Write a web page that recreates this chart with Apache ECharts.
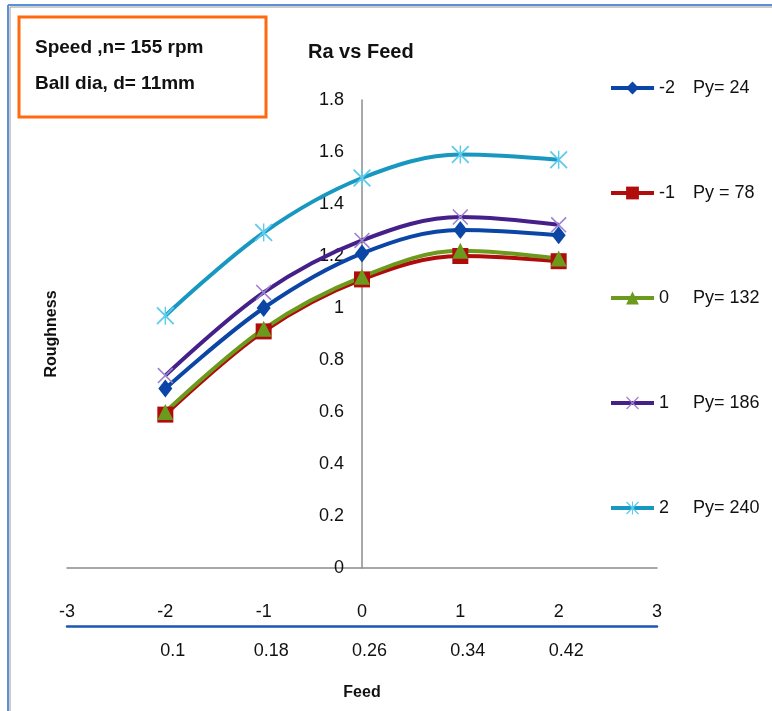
<!DOCTYPE html>
<html>
<head>
<meta charset="utf-8">
<script src="https://cdn.jsdelivr.net/npm/echarts@6/dist/echarts.min.js"></script>
<style>
  html, body { margin: 0; padding: 0; background: #fff; }
  #chart { width: 772px; height: 711px; }
</style>
</head>
<body>
<div id="chart"></div>
<script>
// 编码水平 (x 轴)
const levels = [-2, -1, 0, 1, 2]
// 进给量标签 (第二条 x 轴)
const feedLabels = ['0.1', '0.18', '0.26', '0.34', '0.42']
// 图例名 和 Py
const names = ['-2', '-1', '0', '1', '2']
const pyText = ['Py= 24', 'Py = 78', 'Py= 132', 'Py= 186', 'Py= 240']
// 各条线的 Ra 值
const raM2 = [0.69, 1.0, 1.21, 1.30, 1.28]
const raM1 = [0.59, 0.91, 1.11, 1.20, 1.18]
const ra0 = [0.60, 0.92, 1.12, 1.22, 1.19]
const ra1 = [0.74, 1.06, 1.26, 1.35, 1.32]
const ra2 = [0.97, 1.29, 1.50, 1.59, 1.57]

const font = 'Liberation Sans, Arial, sans-serif'
const xPath = 'path://M0,0.7 L0.7,0 L10,9.3 L9.3,10 Z M9.3,0 L10,0.7 L0.7,10 L0,9.3 Z'
const starPath = xPath + ' M4.6,0 L5.4,0 L5.4,10 L4.6,10 Z'

const makeSeries = (name, vals, color, symbol, size, markColor) => ({
  name: name,
  type: 'line',
  smooth: 0.35,
  data: levels.map((x, i) => [x, vals[i]]),
  symbol: symbol,
  symbolSize: size,
  symbolKeepAspect: true,
  lineStyle: { width: 4, color: color },
  itemStyle: { color: markColor || color },
  emphasis: { disabled: true },
  z: 3
})

var myChart = echarts.init(document.querySelector('#chart'))
option = {
  animation: false,
  textStyle: { fontFamily: font },
  title: {
    text: 'Ra vs Feed',
    left: 303,
    top: 37,
    textStyle: { fontSize: 20, fontWeight: 'bold', color: '#111', fontFamily: font }
  },
  grid: { left: 67, right: 115, top: 100, bottom: 143, containLabel: false, outerBoundsMode: 'none' },
  legend: {
    orient: 'vertical',
    left: 609,
    top: 79,
    itemWidth: 43,
    itemHeight: 16,
    itemGap: 87,
    data: names,
    lineStyle: { width: 4 },
    formatter: name => `{a|${name}}{b|${pyText[names.indexOf(name)]}}`,
    textStyle: {
      fontSize: 18,
      color: '#111',
      rich: {
        a: { width: 34, fontSize: 18, fontFamily: font, color: '#111' },
        b: { fontSize: 18, fontFamily: font, color: '#111' }
      }
    },
    padding: [0, 0, 0, 0]
  },
  xAxis: [
    {
      type: 'value',
      min: -3,
      max: 3,
      interval: 1,
      axisLine: { onZero: false, lineStyle: { color: '#8c8c8c', width: 1.5 } },
      axisTick: { show: false },
      splitLine: { show: false },
      axisLabel: { margin: 35, fontSize: 18, color: '#111', fontFamily: font }
    },
    {
      type: 'value',
      min: -3,
      max: 3,
      interval: 1,
      position: 'bottom',
      offset: 58,
      name: 'Feed',
      nameLocation: 'middle',
      nameGap: 59,
      nameTextStyle: { fontSize: 16, fontWeight: 'bold', color: '#111', fontFamily: font },
      axisLine: { onZero: false, lineStyle: { color: '#1e56b4', width: 2.5 } },
      axisTick: { show: false },
      splitLine: { show: false },
      axisLabel: {
        margin: 16,
        fontSize: 18,
        color: '#111',
        fontFamily: font,
        showMinLabel: true,
        showMaxLabel: true,
        formatter: v => {
          const i = levels.indexOf(Math.round(v))
          return i < 0 ? '' : '   ' + feedLabels[i]
        }
      }
    }
  ],
  yAxis: {
    type: 'value',
    min: 0,
    max: 1.8,
    interval: 0.2,
    // 把 y 轴挪到 x = 0 的位置
    offset: -295,
    name: 'Roughness',
    nameLocation: 'middle',
    nameGap: 302,
    nameRotate: 90,
    nameTextStyle: { fontSize: 16, fontWeight: 'bold', color: '#111', fontFamily: font },
    axisLine: { show: true, onZero: false, lineStyle: { color: '#8c8c8c', width: 1.5 } },
    axisTick: { show: false },
    splitLine: { show: false },
    axisLabel: { margin: 18, fontSize: 18, color: '#111', fontFamily: font }
  },
  series: [
    makeSeries('-2', raM2, '#0b45a6', 'diamond', [14, 18]),
    makeSeries('-1', raM1, '#b00c0c', 'rect', 16),
    makeSeries('0', ra0, '#6b9a1c', 'triangle', 16),
    makeSeries('1', ra1, '#46208a', xPath, 16, '#9c82cf'),
    makeSeries('2', ra2, '#1898c0', starPath, 18, '#5ccbec')
  ],
  graphic: [
    // 外框
    { type: 'line', shape: { x1: 8, y1: 5, x2: 772, y2: 5 }, style: { stroke: '#5b8fd6', lineWidth: 2 } },
    { type: 'line', shape: { x1: 8, y1: 5, x2: 8, y2: 711 }, style: { stroke: '#5b8fd6', lineWidth: 2 } },
    { type: 'line', shape: { x1: 10, y1: 7, x2: 772, y2: 7 }, style: { stroke: '#9a9a9a', lineWidth: 1 } },
    { type: 'line', shape: { x1: 10, y1: 7, x2: 10, y2: 711 }, style: { stroke: '#9a9a9a', lineWidth: 1 } },
    // 左上角说明框
    {
      type: 'rect',
      shape: { x: 19, y: 17, width: 247, height: 100 },
      style: { fill: 'none', stroke: '#ff6a10', lineWidth: 3 }
    },
    {
      type: 'text',
      left: 35, top: 38,
      style: { text: 'Speed ,n= 155 rpm', fontSize: 19, fontWeight: 'bold', fill: '#111', fontFamily: font }
    },
    {
      type: 'text',
      left: 35, top: 74,
      style: { text: 'Ball dia, d= 11mm', fontSize: 19, fontWeight: 'bold', fill: '#111', fontFamily: font }
    }
  ]
}
myChart.setOption(option)
</script>
</body>
</html>
